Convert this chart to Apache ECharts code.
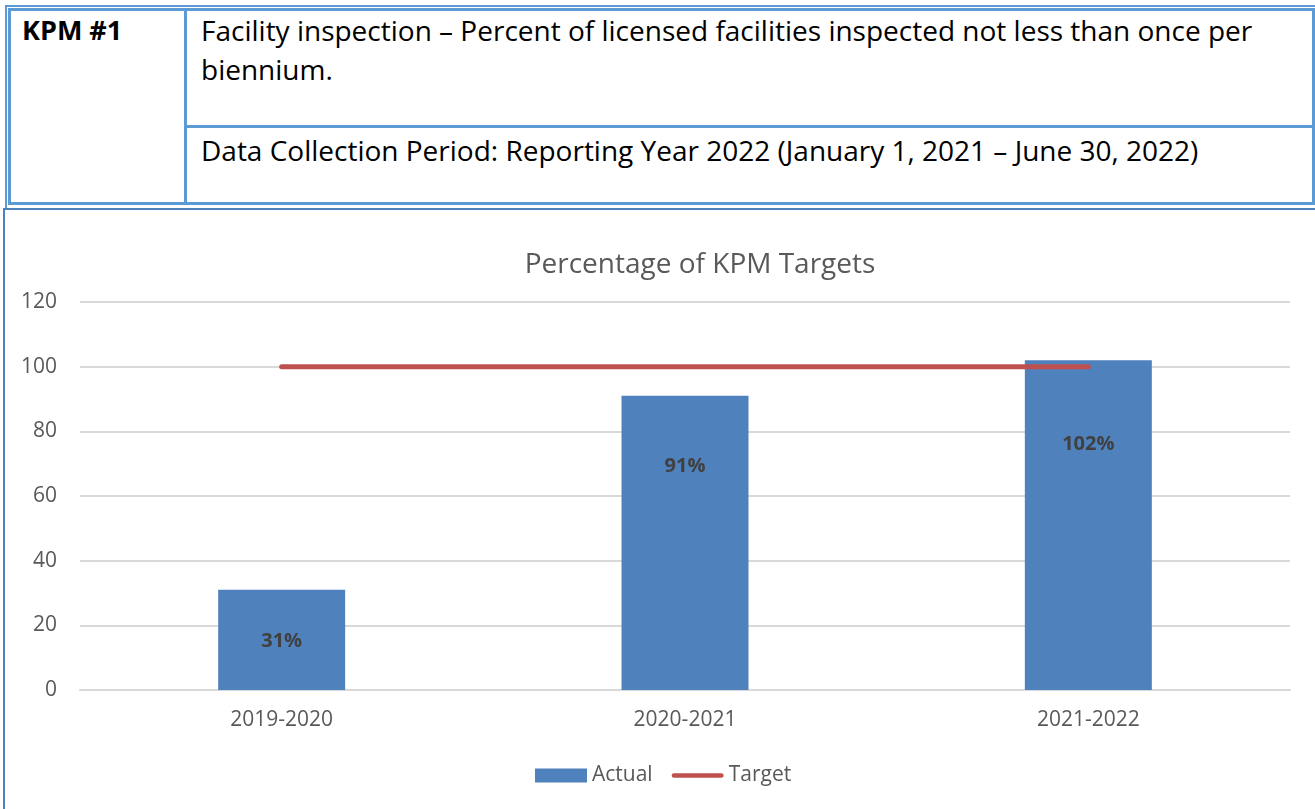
<!DOCTYPE html>
<html>
<head>
<meta charset="utf-8">
<script src="https://cdn.jsdelivr.net/npm/echarts@6/dist/echarts.min.js"></script>
<style>
  html, body { margin: 0; padding: 0; background: #fff; }
  body { width: 1315px; height: 809px; position: relative; overflow: hidden; font-family: "Open Sans", Lato, sans-serif; }
  .ln { position: absolute; background: #5b9bd5; }
  .txt { position: absolute; font-size: 28px; color: #000; white-space: nowrap; line-height: 32px; }
  #chartBox { position: absolute; left: 3px; top: 208px; width: 1320px; height: 610px; border: 2px solid #4f81bd; box-sizing: border-box; }
  #echartContainer { position: absolute; left: 0; top: 0; width: 1315px; height: 809px; }
</style>
</head>
<body>
<!-- header table -->
<div class="ln" style="left:5px;top:5px;width:1310px;height:2px"></div>
<div class="ln" style="left:8px;top:8px;width:1306px;height:3px"></div>
<div class="ln" style="left:5px;top:5px;width:2px;height:203px"></div>
<div class="ln" style="left:8px;top:8px;width:3px;height:197px"></div>
<div class="ln" style="left:1312px;top:8px;width:3px;height:197px"></div>
<div class="ln" style="left:184px;top:8px;width:3px;height:197px"></div>
<div class="ln" style="left:184px;top:125px;width:1130px;height:3px"></div>
<div class="ln" style="left:8px;top:202px;width:1306px;height:3px"></div>
<div class="txt" style="left:22px;top:14px;font-weight:bold;font-size:27px">KPM #1</div>
<div class="txt" style="left:201px;top:14px">Facility inspection – Percent of licensed facilities inspected not less than once per</div>
<div class="txt" style="left:201px;top:53px">biennium.</div>
<div class="txt" style="left:201px;top:134px">Data Collection Period: Reporting Year 2022 (January 1, 2021 – June 30, 2022)</div>

<div id="chartBox"></div>
<div id="echartContainer"></div>

<script>
    "use strict";

    var categories = ['2019-2020', '2020-2021', '2021-2022'];
    var actualValues = [31, 91, 102];
    var targetValues = [100, 100, 100];
    var yTicks = [0, 20, 40, 60, 80, 100, 120];

    var container = document.getElementById('echartContainer');
    var echart = echarts.init(container);

    // label offsets inside the bars (as placed in the original)
    var labelShift = [1, -77, -81];

    var textFont = '"Open Sans", Lato, sans-serif';

    var option = {
        animation: false,
        textStyle: { fontFamily: textFont },
        title: {
            text: 'Percentage of KPM Targets',
            left: 695,
            top: 246,
            textAlign: 'center',
            textStyle: { color: '#595959', fontSize: 28, fontWeight: 'normal', fontFamily: textFont }
        },
        legend: {
            bottom: 18,
            left: 530,
            itemGap: 19,
            itemWidth: 52,
            itemHeight: 14,
            textStyle: { color: '#595959', fontSize: 21, fontFamily: textFont },
            data: [
                { name: 'Actual', icon: 'rect' },
                { name: 'Target', icon: 'path://M2.5,0 L52.5,0 A2.5,2.5 0 0 1 52.5,5 L2.5,5 A2.5,2.5 0 0 1 2.5,0 Z' }
            ]
        },
        grid: { left: 80, right: 25, top: 302, bottom: 119, containLabel: false },
        xAxis: {
            type: 'category',
            data: categories,
            axisLine: { show: true, lineStyle: { color: '#d9d9d9', width: 2 } },
            axisTick: { show: false },
            axisLabel: { color: '#595959', fontSize: 21, margin: 20, fontFamily: textFont }
        },
        yAxis: {
            type: 'value',
            min: yTicks[0],
            max: yTicks[yTicks.length - 1],
            interval: yTicks[1] - yTicks[0],
            axisLine: { show: false },
            axisTick: { show: false },
            axisLabel: { color: '#595959', fontSize: 21, margin: 23, fontFamily: textFont },
            splitLine: { lineStyle: { color: '#d9d9d9', width: 2 } }
        },
        series: [{
            name: 'Actual',
            type: 'bar',
            barWidth: 127,
            itemStyle: { color: '#4f81bd' },
            data: actualValues.map(function (v, i) {
                return {
                    value: v,
                    label: { offset: [0, labelShift[i]] }
                };
            }),
            label: {
                show: true,
                position: 'inside',
                formatter: '{c}%',
                color: '#404040',
                fontSize: 20,
                fontWeight: 'bold',
                fontFamily: textFont
            },
            z: 1
        }, {
            name: 'Target',
            type: 'line',
            data: targetValues,
            symbol: 'none',
            lineStyle: { color: '#c0504d', width: 5, cap: 'round' },
            itemStyle: { color: '#c0504d' },
            z: 3
        }]
    };

    echart.setOption(option);
</script>
</body>
</html>
